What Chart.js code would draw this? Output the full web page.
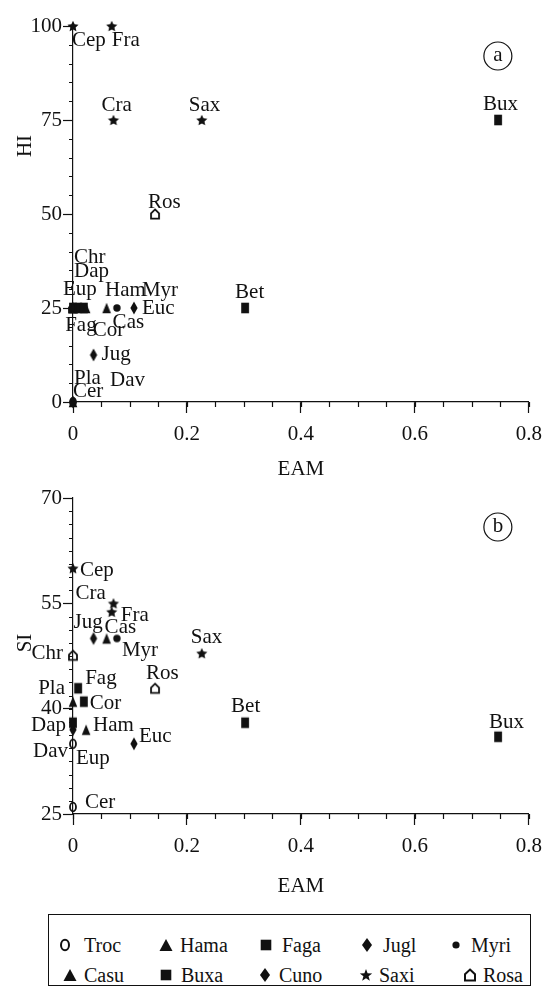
<!DOCTYPE html>
<html><head><meta charset="utf-8">
<script src="https://cdn.jsdelivr.net/npm/chart.js@4.4.1/dist/chart.umd.min.js"></script>
<style>
html,body{margin:0;padding:0;background:#fff;}
body{width:551px;height:987px;position:relative;overflow:hidden;font-family:"Liberation Serif",serif;}
canvas{position:absolute;left:0;}
#ca{top:0;}
#cb{top:482px;}
#legend{position:absolute;left:48px;top:914px;width:483px;height:72px;border:1px solid #111;box-sizing:border-box;}
.lt{position:absolute;font-size:20px;color:#111;line-height:20px;white-space:nowrap;transform:translateY(-50%);font-family:"Liberation Serif",serif;}
</style></head><body>
<canvas id="ca" width="551" height="482"></canvas>
<canvas id="cb" width="551" height="418"></canvas>
<div id="legend"></div>
<script>
// ---------------- data ----------------
const groups = ['Troc','Hama','Faga','Jugl','Myri','Casu','Buxa','Cuno','Saxi','Rosa'];
const groupMarker = ['ring','tri','sq','dia','dot','tri','sq','dia','star','house'];
const taxa      = ['Cep','Fra','Cra','Sax','Bux','Ros','Chr','Dap','Eup','Fag','Cor','Ham','Cas','Myr','Euc','Bet','Jug','Pla','Cer','Dav'];
const taxonGroup= ['Saxi','Saxi','Saxi','Saxi','Buxa','Rosa','Rosa','Buxa','Troc','Faga','Faga','Hama','Casu','Myri','Cuno','Faga','Jugl','Hama','Troc','Cuno'];
const eam       = [0, 0.068, 0.071, 0.226, 0.746, 0.144, 0, 0, 0, 0.009, 0.019, 0.023, 0.059, 0.077, 0.107, 0.302, 0.036, 0, 0, 0];
const hi        = [100, 100, 75, 75, 75, 50, 25, 25, 25, 25, 25, 25, 25, 25, 25, 25, 12.5, 0, 0, 0];
const si        = [60, 53.8, 55, 47.9, 36, 42.9, 47.6, 38, 35, 42.9, 41, 37, 50, 50, 35, 38, 50, 41, 26, 37];
const eamTicks = [0, 0.2, 0.4, 0.6, 0.8];
const hiTicks  = [0, 25, 50, 75, 100];
const siTicks  = [25, 40, 55, 70];

// ---------------- style / layout ----------------
const FAMILY = '"Liberation Serif", "Times New Roman", serif';
const INK = '#111';
Chart.defaults.font.family = FAMILY;
Chart.defaults.font.size = 21;
Chart.defaults.color = INK;

const labelPosA = {
 Cep:[-1,14], Fra:[0,14], Cra:[-12,-15], Sax:[-13,-15], Bux:[-15,-16], Ros:[-7,-12],
 Chr:[1,-51], Dap:[1,-37], Eup:[-10,-19], Ham:[19,-18], Myr:[25,-18], Euc:[8,0], Bet:[-10,-16],
 Fag:[-13,17], Cor:[9,22], Cas:[6,14], Jug:[8,-1], Pla:[1,-24], Dav:[37,-22], Cer:[0,-11]
};
const labelPosB = {
 Cep:[7,2], Cra:[-38,-10], Fra:[9,4], Jug:[-20,-16], Cas:[-2,-11], Myr:[5,12], Sax:[-11,-16],
 Chr:[-10,-2,'right'], Fag:[7,-10], Ros:[-9,-15], Pla:[-8,-13,'right'], Cor:[6,2], Bet:[-14,-16],
 Dap:[-7,3,'right'], Ham:[7,-4], Euc:[5,-7], Dav:[-5,22,'right'], Eup:[3,15], Cer:[12,-4], Bux:[-9,-14]
};

function makeMarker(type, big) {
  const c = document.createElement('canvas');
  const n = big ? 20 : 16;
  c.width = n; c.height = n;
  const g = c.getContext('2d');
  g.translate(n/2, n/2);
  g.fillStyle = INK; g.strokeStyle = INK;
  g.beginPath();
  switch (type) {
    case 'ring':
      g.lineWidth = big ? 2 : 1.8;
      big ? g.ellipse(0,0,4,5.3,0,0,Math.PI*2) : g.ellipse(0,0,3,4.3,0,0,Math.PI*2);
      g.stroke(); break;
    case 'tri': {
      const w = big ? 6.5 : 4.3, h = big ? 6 : 5.3;
      g.moveTo(0,-h); g.lineTo(w,h); g.lineTo(-w,h); g.closePath(); g.fill(); break; }
    case 'sq':
      big ? g.rect(-5.3,-5.3,10.6,10.6) : g.rect(-3.9,-5.3,7.8,10.6);
      g.fill(); break;
    case 'dia': {
      const w = big ? 5 : 3.6, h = big ? 7 : 6.5;
      g.moveTo(0,-h); g.lineTo(w,0); g.lineTo(0,h); g.lineTo(-w,0); g.closePath(); g.fill(); break; }
    case 'dot':
      g.arc(0,0,big ? 3.6 : 3.7,0,Math.PI*2); g.fill(); break;
    case 'star': {
      const ro = big ? 6.5 : 5.8, ri = big ? 2.7 : 2.8;
      for (let k = 0; k < 10; k++) {
        const r = k % 2 ? ri : ro, a = -Math.PI/2 + k*Math.PI/5;
        g.lineTo(r*Math.cos(a), r*Math.sin(a) + (big ? 0.5 : 0.6));
      }
      g.closePath(); g.fill(); break; }
    case 'house': {
      g.lineWidth = big ? 2 : 1.8;
      const w = big ? 5 : 4, t = big ? 5.5 : 4.6, m = big ? -0.8 : -0.6, b = big ? 5.5 : 4.6;
      g.moveTo(0,-t); g.lineTo(w,m); g.lineTo(w,b); g.lineTo(-w,b); g.lineTo(-w,m); g.closePath(); g.stroke(); break; }
  }
  return c;
}

function buildDatasets(yValues) {
  return groups.map((gname, gi) => {
    const idx = taxa.map((t, i) => i).filter(i => taxonGroup[i] === gname);
    return {
      label: gname,
      names: idx.map(i => taxa[i]),
      data: idx.map(i => ({x: eam[i], y: yValues[i]})),
      pointStyle: makeMarker(groupMarker[gi], false),
      pointRadius: 5,
      showLine: false,
      clip: false
    };
  });
}

const fmt = v => String(Number(v.toFixed(3)));

function xScaleCfg(height, titlePadBottom) {
  return {
    type: 'linear', position: 'bottom', min: 0, max: 0.8,
    afterBuildTicks: s => { s.ticks = eamTicks.map(v => ({value: v})); },
    afterFit: s => { s.height = height; },
    ticks: {padding: 9, color: INK, callback: v => fmt(v), maxRotation: 0},
    grid: {display: true, drawOnChartArea: false, drawTicks: true, tickLength: 11, tickColor: INK, tickWidth: 1.2},
    border: {display: true, color: INK, width: 1.2},
    title: {display: true, text: 'EAM', color: INK, padding: {top: 0, bottom: titlePadBottom}}
  };
}
function yScaleCfg(min, max, tickArr) {
  return {
    type: 'linear', position: 'left', min: min, max: max,
    afterBuildTicks: s => { s.ticks = tickArr.map(v => ({value: v})); },
    afterFit: s => { s.width = 73; },
    ticks: {padding: 1, color: INK, callback: v => fmt(v)},
    grid: {display: true, drawOnChartArea: false, drawTicks: true, tickLength: 10, tickColor: INK, tickWidth: 1.2},
    border: {display: true, color: INK, width: 1.2},
    title: {display: false}
  };
}

const annotPlugin = {
  id: 'annot',
  afterDraw(chart, args, o) {
    const ctx = chart.ctx, ca = chart.chartArea;
    const xs = chart.scales.x, ys = chart.scales.y;
    ctx.save();
    // minor ticks
    ctx.strokeStyle = INK; ctx.lineWidth = 1.2;
    ctx.beginPath();
    for (let v = xs.min; v <= xs.max + 1e-9; v += o.minorX) {
      const p = Math.round(xs.getPixelForValue(v)) + 0.5;
      ctx.moveTo(p, ca.bottom); ctx.lineTo(p, ca.bottom + 5);
    }
    for (let v = ys.min; v <= ys.max + 1e-9; v += o.minorY) {
      const p = Math.round(ys.getPixelForValue(v)) + 0.5;
      ctx.moveTo(ca.left - 4, p); ctx.lineTo(ca.left, p);
    }
    ctx.stroke();
    // point labels
    ctx.fillStyle = INK;
    ctx.font = '21px ' + FAMILY;
    ctx.textBaseline = 'middle';
    chart.data.datasets.forEach((ds, di) => {
      const meta = chart.getDatasetMeta(di);
      meta.data.forEach((el, j) => {
        const name = ds.names[j];
        const pos = o.pos[name] || [6, 0];
        ctx.textAlign = pos[2] || 'left';
        ctx.fillText(name, el.x + pos[0], el.y + pos[1]);
      });
    });
    // y-axis title
    ctx.save();
    ctx.translate(25, o.yTitleY);
    ctx.rotate(-Math.PI/2);
    ctx.textAlign = 'center';
    ctx.fillText(o.yTitle, 0, 0);
    ctx.restore();
    // circled panel letter
    const cx = ca.right - 31, cy = ca.top + o.letterDy;
    ctx.lineWidth = 1.2;
    ctx.beginPath(); ctx.arc(cx, cy, 14, 0, Math.PI*2); ctx.stroke();
    ctx.textAlign = 'center';
    ctx.fillText(o.letter, cx, cy - 1);
    ctx.restore();
  }
};

function makeChart(id, yValues, yCfg, xCfg, padTop, o) {
  return new Chart(document.getElementById(id), {
    type: 'scatter',
    data: {datasets: buildDatasets(yValues)},
    options: {
      responsive: false, animation: false, events: [],
      layout: {padding: {top: padTop, right: 18, left: 0, bottom: 0}},
      scales: {x: xCfg, y: yCfg},
      plugins: {legend: {display: false}, tooltip: {enabled: false}, annot: o}
    },
    plugins: [annotPlugin]
  });
}

makeChart('ca', hi, yScaleCfg(0, 100, hiTicks), xScaleCfg(80, 0.4), 26,
  {pos: labelPosA, minorX: 0.05, minorY: 5, yTitle: 'HI', yTitleY: 146, letter: 'a', letterDy: 30});
makeChart('cb', si, yScaleCfg(25, 70, siTicks), xScaleCfg(86, 1.4), 16,
  {pos: labelPosB, minorX: 0.05, minorY: 1.875, yTitle: 'SI', yTitleY: 161, letter: 'b', letterDy: 29});

// ---------------- legend ----------------
const legSymX = [65, 166, 266, 367, 456, 70, 166, 265, 366, 470];
const legTxtX = [84, 180, 282, 383, 471, 84, 181, 279, 379, 483];
const legRowY = [945, 975];
const leg = document.getElementById('legend');
groups.forEach((gname, gi) => {
  const row = gi < 5 ? 0 : 1;
  const c = makeMarker(groupMarker[gi], true);
  c.style.position = 'absolute';
  c.style.left = (legSymX[gi] - 48 - 1 - 10) + 'px';
  c.style.top = (legRowY[row] - 914 - 1 - 10) + 'px';
  leg.appendChild(c);
  const t = document.createElement('div');
  t.className = 'lt';
  t.textContent = gname;
  t.style.left = (legTxtX[gi] - 48 - 1) + 'px';
  t.style.top = (legRowY[row] - 914 - 1) + 'px';
  leg.appendChild(t);
});
</script></body></html>
